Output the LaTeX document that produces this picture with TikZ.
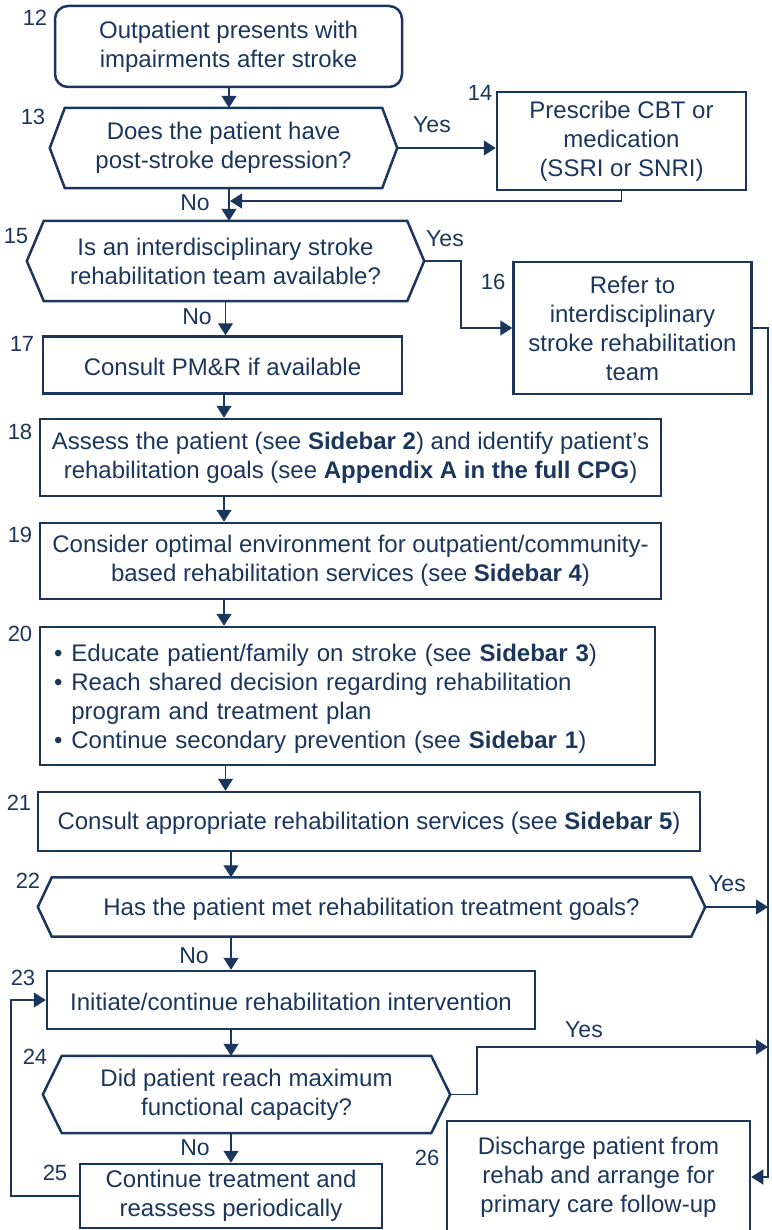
\documentclass[tikz,border=0pt]{standalone}
\usepackage{fontspec}
\setmainfont{Liberation Sans}
\usetikzlibrary{arrows.meta}
\definecolor{navy}{HTML}{1B365D}

\tikzset{
  box/.style={draw=navy, line width=2.5pt, inner sep=0pt, align=center, text=navy,
    execute at begin node={\rule{0pt}{21.5pt}}},
  ask/.style={inner sep=0pt, align=center, text=navy,
    execute at begin node={\rule{0pt}{21.5pt}}},
  tall/.style={execute at begin node={\rule{0pt}{27pt}}},
  num/.style={text=navy, inner sep=0pt, font=\fontsize{22}{24}\selectfont},
  yn/.style={text=navy, inner sep=0pt, font=\fontsize{23}{26}\selectfont},
  arr/.style={draw=navy, line width=1.3pt, -{Triangle[length=12pt,width=15pt]}},
}
% hexagon frame round a decision node: #1 node, #2 inset
\newcommand{\hexframe}[2]{%
  \draw[navy, line width=2.5pt, line join=miter]
    ([xshift=#2]#1.north west) -- ([xshift=-#2]#1.north east) -- (#1.east)
    -- ([xshift=-#2]#1.south east) -- ([xshift=#2]#1.south west) -- (#1.west) -- cycle;}

\begin{document}
\begin{tikzpicture}[x=1pt, y=-1pt, font=\fontsize{24}{29}\selectfont]
\useasboundingbox (0,0) rectangle (771,1230);

% columns and rail
\coordinate (ca) at (229,0);
\coordinate (cb) at (224,0);
\coordinate (cc) at (231,0);
\coordinate (r1) at (768,328);
\coordinate (r2) at (768,1177);
\coordinate (r3) at (768,1047);
\coordinate (j1) at (230,201);
\coordinate (j2) at (461,328);
\coordinate (j4) at (477,1047);
\coordinate (j5) at (11,1196);

% boxes
\node[box, tall, rounded corners=13pt, minimum width=347pt, minimum height=81pt] (n12) at (228.5,46.5) {Outpatient presents with\\impairments after stroke};
\node[ask, tall, minimum width=347pt, minimum height=80pt] (n13) at (223.5,148) {Does the patient have\\post-stroke depression?};
\hexframe{n13}{15pt}
\node[box, tall, minimum width=249pt, minimum height=98pt] (n14) at (621.5,141) {Prescribe CBT or\\medication\\(SSRI or SNRI)};
\node[ask, tall, minimum width=397pt, minimum height=80pt] (n15) at (225.5,261) {Is an interdisciplinary stroke\\rehabilitation team available?};
\hexframe{n15}{17pt}
\node[box, tall, minimum width=238pt, minimum height=132pt] (n16) at (632.5,328) {Refer to\\interdisciplinary\\stroke rehabilitation\\team};
\node[box, minimum width=359pt, minimum height=57pt] (n17) at (222.5,365) {Consult PM\&R if available};
\node[box, tall, minimum width=621pt, minimum height=77pt] (n18) at (350.5,457.5) {Assess the patient (see \textbf{Sidebar 2}) and identify patient’s\\rehabilitation goals (see \textbf{Appendix A in the full CPG})};
\node[box, tall, minimum width=621pt, minimum height=76pt] (n19) at (350.5,561) {Consider optimal environment for outpatient/community-\\based rehabilitation services (see \textbf{Sidebar 4})};
\node[draw=navy, line width=2.5pt, text=navy, text width=587pt, inner xsep=14pt, inner ysep=0pt, align=left, minimum height=138pt] (n20) at (347.5,696) {%
  \raisebox{-3pt}[\height][\depth]{\begin{tabular}{@{}l@{\hspace{9pt}}l@{}}
  \textbullet & Educate patient/family on stroke (see \textbf{Sidebar 3})\\
  \textbullet & Reach shared decision regarding rehabilitation\\
   & program and treatment plan\\
  \textbullet & Continue secondary prevention (see \textbf{Sidebar 1})
  \end{tabular}}};
\node[box, minimum width=662pt, minimum height=59pt] (n21) at (369,821.5) {Consult appropriate rehabilitation services (see \textbf{Sidebar 5})};
\node[ask, minimum width=667pt, minimum height=59pt] (n22) at (371.5,907) {Has the patient met rehabilitation treatment goals?};
\hexframe{n22}{14pt}
\node[box, minimum width=488pt, minimum height=58pt] (n23) at (291,1000) {Initiate/continue rehabilitation intervention};
\node[ask, tall, minimum width=407pt, minimum height=77pt] (n24) at (246.5,1094.5) {Did patient reach maximum\\functional capacity?};
\hexframe{n24}{19pt}
\node[box, tall, minimum width=302pt, minimum height=64pt] (n25) at (231,1196) {Continue treatment and\\reassess periodically};
\node[box, minimum width=303pt, minimum height=112pt] (n26) at (598.5,1177) {Discharge patient from\\rehab and arrange for\\primary care follow-up};

% step numbers
\node[num] (l12) at (35,18) {12};
\node[num] (l13) at (33,117) {13};
\node[num] (l14) at (480,93) {14};
\node[num] (l15) at (16,236) {15};
\node[num] (l16) at (493,282) {16};
\node[num] (l17) at (22,344) {17};
\node[num] (l18) at (20,432) {18};
\node[num] (l19) at (20,535) {19};
\node[num] (l20) at (20,634) {20};
\node[num] (l21) at (19,803) {21};
\node[num] (l22) at (28,881) {22};
\node[num] (l23) at (23,978) {23};
\node[num] (l24) at (35,1057) {24};
\node[num] (l25) at (55,1173) {25};
\node[num] (l26) at (427,1158) {26};

% yes / no
\node[yn] (y13) at (432,125) {Yes};
\node[yn] (y15) at (445,239) {Yes};
\node[yn] (y22) at (727,884) {Yes};
\node[yn] (y24) at (584,1030) {Yes};
\node[yn] (o13) at (195,203) {No};
\node[yn] (o15) at (197,317) {No};
\node[yn] (o22) at (194,956) {No};
\node[yn] (o24) at (195,1148) {No};

% connectors
\draw[arr] (ca |- n12.south) -- (ca |- n13.north);
\draw[arr] (n13.east) -- (n14.west |- n13.east);
\draw[arr] (n14.south) |- (j1);
\draw[arr] (ca |- n13.south) -- (ca |- n15.north);
\draw[arr] (n15.east) -| (j2) -- (n16.west);
\draw[arr] (n16.east) -- (r1) -- (r2) -- (n26.east);
\draw[arr] (n15.south) -- (n15.south |- n17.north);
\draw[arr] (cb |- n17.south) -- (cb |- n18.north);
\draw[arr] (cb |- n18.south) -- (cb |- n19.north);
\draw[arr] (cb |- n19.south) -- (cb |- n20.north);
\draw[arr] (n15.south |- n20.south) -- (n15.south |- n21.north);
\draw[arr] (cc |- n21.south) -- (cc |- n22.north);
\draw[arr] (n22.east) -- (n22.east -| r1);
\draw[arr] (cc |- n22.south) -- (cc |- n23.north);
\draw[arr] (cc |- n23.south) -- (cc |- n24.north);
\draw[arr] (n24.east) -| (j4) -- (r3);
\draw[arr] (cc |- n24.south) -- (cc |- n25.north);
\draw[arr] (n25.west) -- (j5) |- (n23.west);

\end{tikzpicture}
\end{document}
